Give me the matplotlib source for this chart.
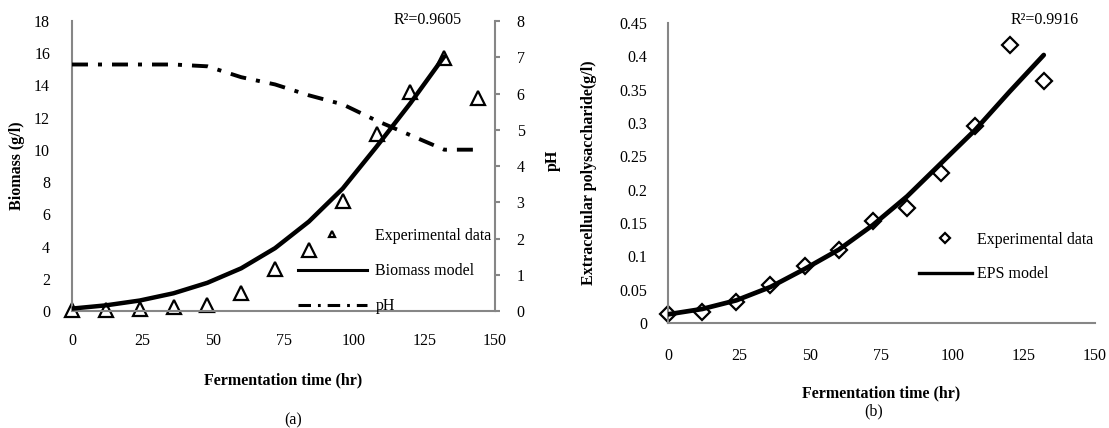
import matplotlib
matplotlib.use("Agg")
import matplotlib.pyplot as plt
from matplotlib.lines import Line2D

plt.rcParams["font.family"] = ["Liberation Serif", "DejaVu Serif"]
plt.rcParams["font.size"] = 11.5
plt.rcParams["lines.scale_dashes"] = False

# (a) biomass and pH
hours = [0, 12, 24, 36, 48, 60, 72, 84, 96, 108, 120, 132, 144]
biomass_exp = [0.05, 0.05, 0.1, 0.25, 0.4, 1.1, 2.6, 3.8, 6.8, 11.0, 13.6, 15.7, 13.2]
ph_values = [6.8, 6.8, 6.8, 6.8, 6.75, 6.45, 6.25, 5.95, 5.7, 5.25, 4.85, 4.45, 4.45]

model_hours = [0, 12, 24, 36, 48, 60, 72, 84, 96, 108, 120, 132]
biomass_model = [0.15, 0.35, 0.65, 1.1, 1.75, 2.65, 3.9, 5.55, 7.6, 10.2, 12.9, 15.8]

# (b) extracellular polysaccharide
eps_exp = [0.014, 0.0165, 0.0315, 0.0565, 0.085, 0.109, 0.1525, 0.1725, 0.225, 0.295, 0.4175, 0.3625]
eps_model = [0.013, 0.021, 0.034, 0.054, 0.081, 0.11, 0.147, 0.19, 0.24, 0.29, 0.347, 0.402]

x_ticks = [0, 25, 50, 75, 100, 125, 150]
GRAY = "#868686"
PH_DASH = (0, (11.5, 7.2, 2.9, 7.2))

W, H = 1109, 428
fig = plt.figure(figsize=(W / 100, H / 100), dpi=100)


def frac(x0, y0, x1, y1):
    return [x0 / W, 1 - y1 / H, (x1 - x0) / W, (y1 - y0) / H]


# ---------- panel (a) ----------
ax1 = fig.add_axes(frac(72, 21, 495, 311))
ax2 = ax1.twinx()

ax1.plot(hours, biomass_exp, linestyle="none", marker="^", markersize=10,
         markerfacecolor="white", markeredgecolor="black", markeredgewidth=1.6,
         zorder=2, clip_on=False)
ax1.plot(model_hours, biomass_model, color="black", linewidth=3.2, zorder=3,
         solid_capstyle="round", solid_joinstyle="round")
ax2.plot(hours, ph_values, color="black", linewidth=2.8, linestyle=PH_DASH)

ax1.set_xlim(0, 150)
ax1.set_ylim(0, 18)
ax2.set_ylim(0, 8)
ax1.set_xticks(x_ticks)
ax1.set_yticks(range(0, 19, 2))
ax2.set_yticks(range(0, 9))

for s in ["top", "right"]:
    ax1.spines[s].set_visible(False)
for s in ["left", "bottom"]:
    ax1.spines[s].set_color(GRAY)
    ax1.spines[s].set_linewidth(1.5)
for s in ["top", "left", "bottom"]:
    ax2.spines[s].set_visible(False)
ax2.spines["right"].set_color(GRAY)
ax2.spines["right"].set_linewidth(1.5)

ax1.tick_params(axis="x", length=0, pad=16)
ax1.tick_params(axis="y", length=0, pad=15.8)
ax2.tick_params(axis="y", length=3.6, width=1.5, color=GRAY, pad=12, direction="out")

fig.text(462 / W, 1 - 20 / H, "R²=0.9605", ha="right", va="center")
fig.text(17 / W, 1 - 166 / H, "Biomass (g/l)", rotation=90, ha="center", va="center", fontweight="bold")
fig.text(553 / W, 1 - 160 / H, "pH", rotation=90, ha="center", va="center", fontweight="bold")
fig.text(283.5 / W, 1 - 380 / H, "Fermentation time (hr)", ha="center", va="center", fontweight="bold")
fig.text(293 / W, 1 - 420 / H, "(a)", ha="center", va="center")

handles_a = [
    Line2D([], [], linestyle="none", marker="^", markersize=5, markerfacecolor="white",
           markeredgecolor="black", markeredgewidth=1.6),
    Line2D([], [], color="black", linewidth=2.2),
    Line2D([], [], color="black", linewidth=2.2, linestyle=(0, (9, 5, 2, 5))),
]
fig.legend(handles_a, ["Experimental data", "Biomass model", "pH"],
           loc="upper left", bbox_to_anchor=(298 / W, 1 - 228 / H), frameon=False,
           borderpad=0, borderaxespad=0, handlelength=4.3, handletextpad=0.55,
           labelspacing=1.2)

# ---------- panel (b) ----------
ax3 = fig.add_axes(frac(668, 23, 1095, 323))
ax3.plot(model_hours, eps_exp, linestyle="none", marker="D", markersize=8,
         markerfacecolor="white", markeredgecolor="black", markeredgewidth=1.6,
         zorder=2, clip_on=False)
ax3.plot(model_hours, eps_model, color="black", linewidth=3.4, zorder=3,
         solid_capstyle="round", solid_joinstyle="round")

ax3.set_xlim(0, 150)
ax3.set_ylim(0, 0.45)
ax3.set_xticks(x_ticks)
ax3.set_yticks([0, 0.05, 0.1, 0.15, 0.2, 0.25, 0.3, 0.35, 0.4, 0.45])
ax3.set_yticklabels(["0", "0.05", "0.1", "0.15", "0.2", "0.25", "0.3", "0.35", "0.4", "0.45"])
for s in ["top", "right"]:
    ax3.spines[s].set_visible(False)
for s in ["left", "bottom"]:
    ax3.spines[s].set_color(GRAY)
    ax3.spines[s].set_linewidth(1.5)
ax3.tick_params(axis="x", length=0, pad=18)
ax3.tick_params(axis="y", length=0, pad=15)

fig.text(1079 / W, 1 - 20 / H, "R²=0.9916", ha="right", va="center")
fig.text(589 / W, 1 - 173 / H, "Extracellular polysaccharide(g/l)", rotation=90,
         ha="center", va="center", fontweight="bold")
fig.text(881 / W, 1 - 393 / H, "Fermentation time (hr)", ha="center", va="center", fontweight="bold")
fig.text(874 / W, 1 - 411 / H, "(b)", ha="center", va="center")

handles_b = [
    Line2D([], [], linestyle="none", marker="D", markersize=5, markerfacecolor="white",
           markeredgecolor="black", markeredgewidth=1.6),
    Line2D([], [], color="black", linewidth=2.4),
]
fig.legend(handles_b, ["Experimental data", "EPS model"],
           loc="upper left", bbox_to_anchor=(919 / W, 1 - 232 / H), frameon=False,
           borderpad=0, borderaxespad=0, handlelength=3.3, handletextpad=0.35,
           labelspacing=1.15)

fig.savefig("out.png", dpi=100)
